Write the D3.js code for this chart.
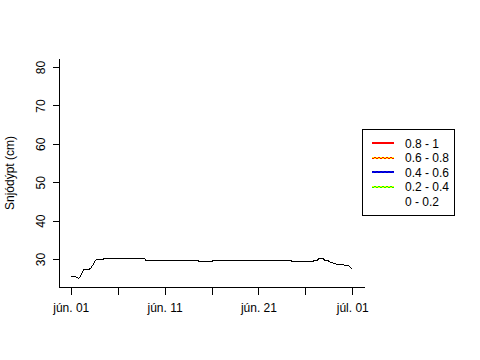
<!DOCTYPE html>
<html>
<head>
<meta charset="utf-8">
<script src="https://cdn.jsdelivr.net/npm/d3@7"></script>
<style>
  html, body { margin: 0; padding: 0; background: #fff; }
  svg { display: block; font-family: "Liberation Sans", Arial, sans-serif; }
</style>
</head>
<body>
<svg id="chart" width="480" height="360"></svg>
<script>
// ---- data ----
const times = [
  "2021-06-01T00:00","2021-06-01T10:00","2021-06-01T15:00","2021-06-01T20:00","2021-06-01T23:00",
  "2021-06-02T03:00","2021-06-02T05:30","2021-06-02T09:30","2021-06-02T14:00","2021-06-02T22:00",
  "2021-06-03T00:45","2021-06-03T03:00","2021-06-03T06:30","2021-06-03T10:45","2021-06-03T13:30",
  "2021-06-03T17:45","2021-06-04T10:00","2021-06-04T12:30","2021-06-08T21:30","2021-06-08T22:45",
  "2021-06-14T13:00","2021-06-14T14:30","2021-06-16T02:30","2021-06-16T04:30","2021-06-24T09:00",
  "2021-06-24T14:30","2021-06-24T21:30","2021-06-26T12:00","2021-06-26T17:00","2021-06-27T05:00",
  "2021-06-27T09:30","2021-06-27T12:00","2021-06-27T20:30","2021-06-28T02:30","2021-06-28T08:30",
  "2021-06-28T15:30","2021-06-28T22:20","2021-06-29T04:00","2021-06-29T10:00","2021-06-30T10:00",
  "2021-06-30T14:30","2021-06-30T23:00"
];
const depth = [
  25.6, 25.5, 25.3, 25.0, 25.2,
  26.0, 26.5, 27.2, 27.3, 27.3,
  27.5, 27.6, 28.3, 28.7, 29.5,
  29.8, 29.8, 30.05, 30.05, 29.7,
  29.7, 29.45, 29.45, 29.7, 29.7,
  29.4, 29.35, 29.3, 29.45, 29.6,
  30.0, 30.2, 30.2, 29.6, 29.7,
  29.2, 29.0, 28.75, 28.6, 28.4,
  28.3, 27.4
];
const yTicks = [30, 40, 50, 60, 70, 80];
const xTickDates = ["2021-06-01","2021-06-06","2021-06-11","2021-06-16","2021-06-21","2021-06-26","2021-07-01"];
const xTickLabels = ["jún. 01", "", "jún. 11", "", "jún. 21", "", "júl. 01"];
const yLabel = "Snjódýpt (cm)";
const legendLabels = ["0.8 - 1", "0.6 - 0.8", "0.4 - 0.6", "0.2 - 0.4", "0 - 0.2"];
const legendColorA = ["#ff0000", "#ff0000", "#0000ff", "#00ff00", null];
const legendColorB = ["#ff0000", "#ffff00", "#0000b0", "#ffff00", null];

// ---- layout ----
const svg = d3.select("#chart");
const parse = d3.timeParse("%Y-%m-%dT%H:%M");
const parseDay = d3.timeParse("%Y-%m-%d");
const data = times.map((t, i) => ({ t: parse(t), v: depth[i] }));

const pLeft = 59.5, pRight = 363.5, pTop = 59, pBottom = 287;
const d0 = parseDay("2021-06-01"), d1 = parseDay("2021-07-01");
const span = d1 - d0;
const x = d3.scaleTime()
  .domain([new Date(+d0 - 0.04 * span), new Date(+d1 + 0.04 * span)])
  .range([pLeft, pRight]);
const y = d3.scaleLinear().domain([22.73, 82.1]).range([pBottom, pTop]);

// frame (L-shaped box)
svg.append("path")
  .attr("d", `M${pLeft},${pTop}V${pBottom + 0.5}H${pRight + 1}`)
  .attr("fill", "none").attr("stroke", "#000").attr("stroke-width", 1)
  .attr("shape-rendering", "crispEdges");

// y axis
const yAxis = d3.axisLeft(y).tickValues(yTicks).tickSize(7).tickPadding(0);
const gy = svg.append("g").attr("transform", `translate(${pLeft},0)`).call(yAxis);
gy.select(".domain").remove();
gy.selectAll(".tick line").attr("shape-rendering", "crispEdges");
gy.selectAll(".tick text")
  .attr("font-size", 12).attr("fill", "#000")
  .attr("text-anchor", "middle")
  .attr("transform", "rotate(-90)")
  .attr("x", 0).attr("y", -14.5).attr("dy", 0);

// x axis
const xAxis = d3.axisBottom(x)
  .tickValues(xTickDates.map(parseDay))
  .tickFormat((d, i) => xTickLabels[i])
  .tickSize(7).tickPadding(9);
const gx = svg.append("g").attr("transform", `translate(0,${pBottom + 0.5})`).call(xAxis);
gx.select(".domain").remove();
gx.selectAll(".tick line").attr("shape-rendering", "crispEdges");
gx.selectAll(".tick text").attr("font-size", 12).attr("fill", "#000");

// y label
svg.append("text")
  .attr("transform", `translate(14,${(pTop + pBottom) / 2}) rotate(-90)`)
  .attr("text-anchor", "middle")
  .attr("font-size", 12).attr("fill", "#000")
  .text(yLabel);

// series line
const line = d3.line().x(d => x(d.t)).y(d => y(d.v));
svg.append("path").datum(data)
  .attr("d", line)
  .attr("fill", "none").attr("stroke", "#000").attr("stroke-width", 1)
  .attr("shape-rendering", "crispEdges");

// legend
const lg = svg.append("g");
lg.append("rect")
  .attr("x", 362.5).attr("y", 129.5).attr("width", 92).attr("height", 86)
  .attr("fill", "#fff").attr("stroke", "#000").attr("stroke-width", 1)
  .attr("shape-rendering", "crispEdges");
const rows = lg.selectAll("g.row").data(legendLabels).enter().append("g")
  .attr("class", "row")
  .attr("transform", (d, i) => `translate(0,${143 + i * 14.5})`);
rows.each(function(d, i) {
  const g = d3.select(this);
  if (legendColorA[i]) {
    g.append("rect").attr("x", 372).attr("y", -1).attr("width", 22).attr("height", 2)
      .attr("fill", legendColorA[i]).attr("shape-rendering", "crispEdges");
    if (legendColorB[i] !== legendColorA[i]) {
      g.append("line").attr("x1", 372).attr("x2", 394).attr("y1", -0.5).attr("y2", -0.5)
        .attr("stroke", legendColorB[i]).attr("stroke-dasharray", "2,2")
        .attr("shape-rendering", "crispEdges");
      g.append("line").attr("x1", 374).attr("x2", 394).attr("y1", 0.5).attr("y2", 0.5)
        .attr("stroke", legendColorB[i]).attr("stroke-dasharray", "2,2")
        .attr("shape-rendering", "crispEdges");
    }
  }
  g.append("text").attr("x", 405).attr("y", 4.5)
    .attr("font-size", 12).attr("fill", "#000").text(d);
});
</script>
</body>
</html>
